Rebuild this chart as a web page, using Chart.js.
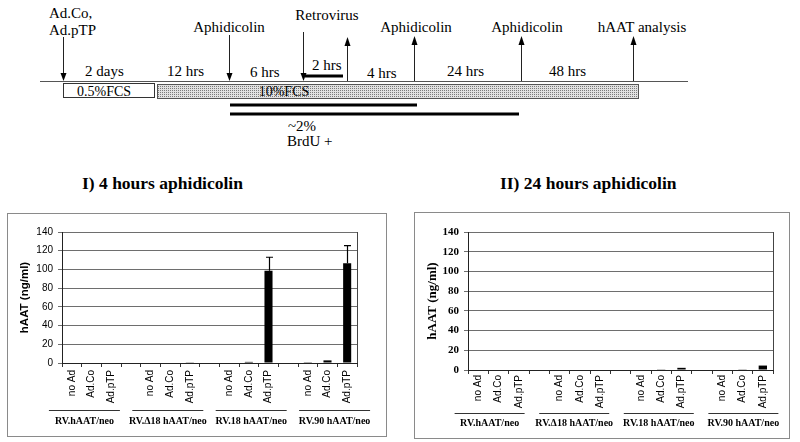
<!DOCTYPE html>
<html>
<head>
<meta charset="utf-8">
<script src="https://cdn.jsdelivr.net/npm/chart.js@4.4.0/dist/chart.umd.min.js"></script>
<style>
  body { margin: 0; background: #fff; }
  #page { position: relative; width: 800px; height: 442px; overflow: hidden; }
  #scheme { position: absolute; left: 0; top: 0; }
  #scheme text { font-family: "Liberation Serif", "Times New Roman", serif; font-size: 15px; fill: #000; }
  #scheme text.small { font-size: 14px; }
  #scheme text.title { font-size: 17.5px; font-weight: bold; }
  .panel { position: absolute; border: 1px solid #8a8a8a; }
  .panel canvas { display: block; }
</style>
</head>
<body>
<div id="page">

<!-- timeline scheme + panel titles -->
<svg id="scheme" width="800" height="200">
  <defs>
    <pattern id="dots" width="2" height="2" patternUnits="userSpaceOnUse">
      <rect width="2" height="2" fill="#e2e2e2"/>
      <rect width="1" height="1" fill="#7c7c7c"/>
    </pattern>
  </defs>

  <text x="49" y="18">Ad.Co,</text>
  <text x="49" y="35">Ad.pTP</text>
  <text x="229" y="32" text-anchor="middle">Aphidicolin</text>
  <text x="327" y="20" text-anchor="middle">Retrovirus</text>
  <text x="416" y="32" text-anchor="middle">Aphidicolin</text>
  <text x="527" y="32" text-anchor="middle">Aphidicolin</text>
  <text x="642" y="32" text-anchor="middle">hAAT analysis</text>

  <text x="85" y="76">2 days</text>
  <text x="167" y="76">12 hrs</text>
  <text x="250" y="77">6 hrs</text>
  <text x="312" y="70">2 hrs</text>
  <text x="367" y="78">4 hrs</text>
  <text x="447" y="76">24 hrs</text>
  <text x="549" y="76">48 hrs</text>

  <!-- base line -->
  <line x1="40" y1="81.5" x2="688" y2="81.5" stroke="#555" stroke-width="1"/>

  <!-- arrows -->
  <g stroke="#222" stroke-width="1">
    <line x1="63.5" y1="37" x2="63.5" y2="74"/>
    <line x1="229.5" y1="35" x2="229.5" y2="74"/>
    <line x1="303.5" y1="32" x2="303.5" y2="74"/>
    <line x1="347.5" y1="81" x2="347.5" y2="45"/>
    <line x1="414.5" y1="81" x2="414.5" y2="44"/>
    <line x1="521.5" y1="81" x2="521.5" y2="44"/>
    <line x1="633.5" y1="81" x2="633.5" y2="44"/>
  </g>
  <polygon points="60.5,73 66.5,73 63.5,81"/>
  <polygon points="226.5,73 232.5,73 229.5,81"/>
  <polygon points="300.5,73 306.5,73 303.5,81"/>
  <polygon points="344.5,46 350.5,46 347.5,37"/>
  <polygon points="411.5,45 417.5,45 414.5,36"/>
  <polygon points="518.5,45 524.5,45 521.5,36"/>
  <polygon points="630.5,45 636.5,45 633.5,36"/>

  <!-- medium boxes -->
  <rect x="63.5" y="83.5" width="91" height="14" fill="#fff" stroke="#333"/>
  <text class="small" x="77" y="96">0.5%FCS</text>
  <rect x="157.5" y="84.5" width="481" height="14" fill="url(#dots)" stroke="#555"/>
  <text class="small" x="284" y="96" text-anchor="middle">10%FCS</text>

  <!-- thick bars -->
  <line x1="305" y1="76" x2="343" y2="76" stroke="#000" stroke-width="3"/>
  <line x1="230" y1="105" x2="417" y2="105" stroke="#000" stroke-width="3"/>
  <line x1="230" y1="114" x2="519" y2="114" stroke="#000" stroke-width="3"/>

  <text x="288" y="131">~2%</text>
  <text x="287" y="146">BrdU +</text>

  <text class="title" x="82" y="189">I) 4 hours aphidicolin</text>
  <text class="title" x="500" y="189">II) 24 hours aphidicolin</text>
</svg>

<div class="panel" style="left:7px; top:213px;"><canvas id="chart4h" width="378" height="222"></canvas></div>
<div class="panel" style="left:414px; top:212px;"><canvas id="chart24h" width="374" height="225"></canvas></div>

</div>

<script>
// categories: 4 retrovirus groups of 3, with an empty slot between groups
var categories = ['no Ad', 'Ad.Co', 'Ad.pTP', '',
                  'no Ad', 'Ad.Co', 'Ad.pTP', '',
                  'no Ad', 'Ad.Co', 'Ad.pTP', '',
                  'no Ad', 'Ad.Co', 'Ad.pTP'];
var groupLabels = ['RV.hAAT/neo', 'RV.\u039418 hAAT/neo', 'RV.18 hAAT/neo', 'RV.90 hAAT/neo'];
var yMax = 140;
var yStep = 20;

// I) 4 hours aphidicolin
var values4h = [0, 0, 0, null, 0, 0, 0.3, null, 0, 1.2, 98.5, null, 0.2, 2.8, 106.5];
var errors4h = [0, 0, 0, 0, 0, 0, 0, 0, 0, 0, 14.5, 0, 0, 0, 19];

// II) 24 hours aphidicolin
var values24h = [0, 0, 0, null, 0, 0, 0, null, 0, 0.3, 2.2, null, 0, 0.3, 4.5];
var errors24h = [0, 0, 0, 0, 0, 0, 0, 0, 0, 0, 0, 0, 0, 0, 0];

// error bars (upper only, with cap)
var errorPlugin = {
  id: 'errorBars',
  afterDatasetsDraw: function (chart, args, opts) {
    var meta = chart.getDatasetMeta(0);
    var y = chart.scales.y;
    var ctx = chart.ctx;
    var vals = chart.data.datasets[0].data;
    ctx.save();
    ctx.strokeStyle = '#000';
    ctx.lineWidth = 1.2;
    opts.errors.forEach(function (e, i) {
      if (!e || vals[i] == null) return;
      var bx = Math.round(meta.data[i].x) + 0.5;
      var top = y.getPixelForValue(vals[i] + e);
      ctx.beginPath();
      ctx.moveTo(bx, meta.data[i].y);
      ctx.lineTo(bx, top);
      ctx.moveTo(bx - 3.5, top);
      ctx.lineTo(bx + 3.5, top);
      ctx.stroke();
    });
    ctx.restore();
  }
};

// group names under the category labels
var groupPlugin = {
  id: 'groupLabels',
  afterDraw: function (chart, args, opts) {
    var ctx = chart.ctx;
    var x = chart.scales.x;
    var mid = (chart.chartArea.left + chart.chartArea.right) / 2;
    ctx.save();
    ctx.strokeStyle = '#333';
    ctx.lineWidth = 1;
    ctx.fillStyle = '#000';
    ctx.font = opts.font;
    ctx.textAlign = 'center';
    groupLabels.forEach(function (label, g) {
      var c = (x.getPixelForValue(g * 4) + x.getPixelForValue(g * 4 + 2)) / 2;
      c = mid + (c - mid) * opts.spread + opts.shift;
      ctx.beginPath();
      ctx.moveTo(c - opts.halfWidth, opts.lineY + 0.5);
      ctx.lineTo(c + opts.halfWidth, opts.lineY + 0.5);
      ctx.stroke();
      ctx.fillText(label, c, opts.textY);
    });
    ctx.restore();
  }
};

// right edge of the plot frame
var framePlugin = {
  id: 'frame',
  afterDraw: function (chart) {
    var a = chart.chartArea, ctx = chart.ctx;
    ctx.save();
    ctx.strokeStyle = '#444';
    ctx.lineWidth = 1;
    ctx.beginPath();
    ctx.moveTo(Math.round(a.right) + 0.5, a.top);
    ctx.lineTo(Math.round(a.right) + 0.5, a.bottom);
    ctx.stroke();
    ctx.restore();
  }
};

function makeChart(id, values, errors, s) {
  return new Chart(document.getElementById(id), {
    type: 'bar',
    data: {
      labels: categories,
      datasets: [{
        data: values,
        backgroundColor: '#000',
        barPercentage: 0.41,
        categoryPercentage: 1
      }]
    },
    options: {
      responsive: false,
      animation: false,
      devicePixelRatio: 1,
      layout: { padding: s.padding },
      plugins: {
        legend: { display: false },
        tooltip: { enabled: false },
        errorBars: { errors: errors },
        groupLabels: s.group
      },
      scales: {
        x: {
          grid: { offset: true, drawOnChartArea: false, drawTicks: true, tickLength: 4, color: '#333' },
          border: { color: '#222', width: 1 },
          ticks: {
            minRotation: 90, maxRotation: 90, autoSkip: false,
            padding: s.labelPad, color: '#000',
            font: { family: 'Liberation Sans', size: 10 }
          },
          afterFit: function (scale) { scale.height = s.xHeight; }
        },
        y: {
          min: 0,
          max: yMax,
          ticks: { stepSize: yStep, padding: 5, color: '#000', font: s.tickFont },
          grid: { color: '#6e6e6e', tickLength: 4, drawTicks: true },
          border: { color: '#222', width: 1 },
          title: { display: true, text: 'hAAT (ng/ml)', color: '#000', font: s.titleFont, padding: { top: 2, bottom: 0 } },
          afterFit: function (scale) { scale.width = s.yWidth; }
        }
      }
    },
    plugins: [errorPlugin, groupPlugin, framePlugin]
  });
}

makeChart('chart4h', values4h, errors4h, {
  padding: { left: 8, right: 29, top: 18, bottom: 0 },
  yWidth: 46,
  xHeight: 73,
  labelPad: 3,
  tickFont: { family: 'Liberation Sans', size: 10 },
  titleFont: { family: 'Liberation Sans', size: 11.5, weight: 'bold' },
  group: { font: 'bold 10px "Liberation Serif"', lineY: 196, textY: 210, halfWidth: 35.5, spread: 1.06, shift: 0 }
});

makeChart('chart24h', values24h, errors24h, {
  padding: { left: 8, right: 16, top: 19, bottom: 0 },
  yWidth: 45,
  xHeight: 68,
  labelPad: 1,
  tickFont: { family: 'Liberation Serif', size: 11, weight: 'bold' },
  titleFont: { family: 'Liberation Serif', size: 13, weight: 'bold' },
  group: { font: 'bold 10px "Liberation Serif"', lineY: 200, textY: 213, halfWidth: 35, spread: 1.04, shift: -4 }
});
</script>
</body>
</html>
